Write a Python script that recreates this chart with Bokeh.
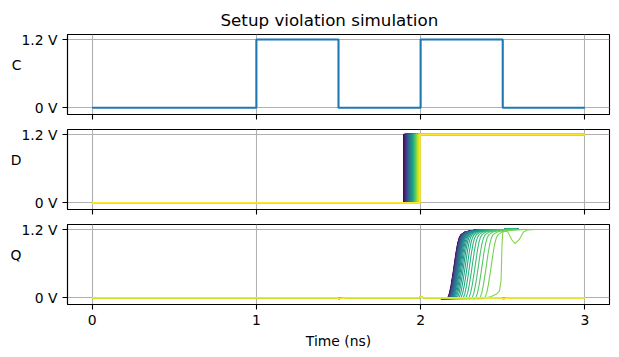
from bokeh.plotting import figure
from bokeh.models import Range1d, FixedTicker, CustomJSTickFormatter
from bokeh.layouts import column
from bokeh.palettes import viridis
from bokeh.embed import file_html
from bokeh.resources import INLINE

FONT = "DejaVu Sans"

# ---- data ----
X_TICKS = [0, 1, 2, 3]
Y_TICKS = [0, 1.2]
ROW_LABELS = ["C", "D", "Q"]

# clock
C_T = [0, 1, 1, 1.5, 1.5, 2, 2, 2.5, 2.5, 3]
C_V = [0, 0, 1.2, 1.2, 0, 0, 1.2, 1.2, 0, 0]

# data input step times (ns), one per sweep trace
D_STEP = [1.8975, 1.9000, 1.9025, 1.9050, 1.9075, 1.9100, 1.9125, 1.9150,
          1.9175, 1.9200, 1.9225, 1.9250, 1.9275, 1.9300, 1.9325, 1.9350,
          1.9375, 1.9400, 1.9425, 1.9450, 1.9475, 1.9500, 1.9525, 1.9550,
          1.9575, 1.9600, 1.9625, 1.9650, 1.9675, 1.9700, 1.9725, 1.9750,
          1.9775, 1.9800, 1.9825, 1.9850, 1.9875, 1.9900, 1.9925, 1.9960]

# Q rise start times for the traces that switch (first 32 traces)
Q_START = [2.166, 2.167, 2.168, 2.169, 2.170, 2.171, 2.172, 2.173, 2.174,
           2.176, 2.177, 2.179, 2.181, 2.183, 2.185, 2.188, 2.191, 2.194,
           2.198, 2.203, 2.209, 2.216, 2.224, 2.234, 2.246, 2.260, 2.276,
           2.294, 2.314, 2.336, 2.362, 2.392]

# rise waveform relative to its start time
SHAPE_DT = [-0.07, -0.04, -0.01, 0.0, 0.01, 0.02, 0.03, 0.04, 0.05, 0.06,
            0.07, 0.08, 0.10, 0.13, 0.18, 0.25]
SHAPE_V = [0.0, -0.02, -0.02, 0.0, 0.08, 0.22, 0.40, 0.60, 0.80, 0.96,
           1.06, 1.11, 1.15, 1.175, 1.192, 1.2]

# the late trace that switches at the falling clock edge and rings
DIP_T = [0, 2.40, 2.43, 2.46, 2.48, 2.49, 2.495, 2.50, 2.51, 2.53, 2.555,
         2.575, 2.60, 2.625, 2.65, 2.70, 3.0]
DIP_V = [0, 0, 0.02, 0.06, 0.12, 0.3, 0.9, 1.15, 1.18, 1.16, 1.02, 0.95,
         1.02, 1.15, 1.19, 1.2, 1.2]

# Q levels with small clock-feedthrough glitches
Q_LOW_T = [0, 1.49, 1.5, 1.52, 1.56, 1.99, 2.0, 2.02, 2.49, 2.5, 2.52, 2.56, 3.0]
Q_LOW_V = [0, 0, -0.02, -0.01, 0, 0, 0.015, 0, 0, -0.025, -0.01, 0, 0]
Q_HIGH_T = [0, 2.49, 2.5, 2.515, 2.56, 2.6, 3.0]
Q_HIGH_V = [1.2, 1.2, 1.175, 1.215, 1.21, 1.2, 1.2]

N = len(D_STEP)
COLORS = list(viridis(N))

# ---- build traces ----
d_xs = [[0, td, td, 3] for td in D_STEP]
d_ys = [[0, 0, 1.2, 1.2] for _ in D_STEP]


def q_trace(s):
    t0 = s + SHAPE_DT[0]
    t1 = s + SHAPE_DT[-1]
    xs = [t for t in Q_LOW_T if t < t0]
    ys = [v for t, v in zip(Q_LOW_T, Q_LOW_V) if t < t0]
    xs += [s + d for d in SHAPE_DT]
    ys += list(SHAPE_V)
    xs += [t for t in Q_HIGH_T if t > t1]
    ys += [v for t, v in zip(Q_HIGH_T, Q_HIGH_V) if t > t1]
    return xs, ys


q_xs, q_ys = [], []
for i in range(N):
    if i < len(Q_START):
        xs, ys = q_trace(Q_START[i])
    elif i == len(Q_START):
        xs, ys = list(DIP_T), list(DIP_V)
    else:
        xs, ys = list(Q_LOW_T), list(Q_LOW_V)
    q_xs.append(xs)
    q_ys.append(ys)

# ---- figures ----
x_range = Range1d(-0.15, 3.15)
fmt = CustomJSTickFormatter(code="return (Math.abs(tick) < 1e-9 ? '0' : tick.toFixed(1)) + ' V';")
blank = CustomJSTickFormatter(code="return '';")


def make_fig(label, top, bottom, show_xlabels):
    p = figure(width=619, height=top + 80 + bottom, x_range=x_range,
               y_range=Range1d(-0.12, 1.288), output_backend="svg",
               toolbar_location=None, min_border_left=67, min_border_right=10,
               min_border_top=top, min_border_bottom=bottom)
    p.background_fill_color = "white"
    p.border_fill_color = "white"
    p.outline_line_color = "black"
    p.outline_line_width = 1.1
    p.outline_line_alpha = 1.0
    p.xaxis.ticker = FixedTicker(ticks=X_TICKS)
    p.yaxis.ticker = FixedTicker(ticks=Y_TICKS)
    p.yaxis.formatter = fmt
    for ax in (p.xaxis, p.yaxis):
        ax.axis_line_color = "black"
        ax.axis_line_width = 1.1
        ax.major_tick_line_color = "black"
        ax.major_tick_line_width = 1.1
        ax.major_tick_in = 0
        ax.major_tick_out = 5
        ax.minor_tick_line_color = None
        ax.major_label_text_font = FONT
        ax.major_label_text_font_size = "13.9px"
        ax.major_label_text_color = "black"
        ax.major_label_standoff = 5
    if not show_xlabels:
        p.xaxis.formatter = blank
        p.xaxis.major_label_standoff = 0
    for g in (p.xgrid, p.ygrid):
        g.grid_line_color = "#b0b0b0"
        g.grid_line_width = 1.1
    yax = p.yaxis[0]
    yax.axis_label = label + "\n"
    yax.axis_label_text_font = FONT
    yax.axis_label_text_font_size = "13.9px"
    yax.axis_label_text_font_style = "normal"
    yax.axis_label_text_color = "black"
    yax.axis_label_standoff = -3
    try:
        yax.axis_label_orientation = "horizontal"
    except Exception:
        pass
    return p


p1 = make_fig(ROW_LABELS[0], 34, 7, False)
p2 = make_fig(ROW_LABELS[1], 8, 7, False)
p3 = make_fig(ROW_LABELS[2], 8, 53, True)

p1.title.text = "Setup violation simulation"
p1.title.text_font = FONT
p1.title.text_font_size = "16.7px"
p1.title.text_font_style = "normal"
p1.title.text_color = "black"
p1.title.align = "left"
p1.title.offset = 153

p1.line(C_T, C_V, line_color="#1f77b4", line_width=2.1)
p2.multi_line(d_xs, d_ys, line_color=COLORS, line_width=1.5)
p3.multi_line(q_xs, q_ys, line_color=COLORS, line_width=1.1)

p3.xaxis.axis_label = "Time (ns)"
p3.xaxis.axis_label_text_font = FONT
p3.xaxis.axis_label_text_font_size = "13.9px"
p3.xaxis.axis_label_text_font_style = "normal"
p3.xaxis.axis_label_text_color = "black"
p3.xaxis.axis_label_standoff = 5

layout = column(p1, p2, p3, spacing=0)
open("out.html", "w").write(file_html(layout, INLINE))
